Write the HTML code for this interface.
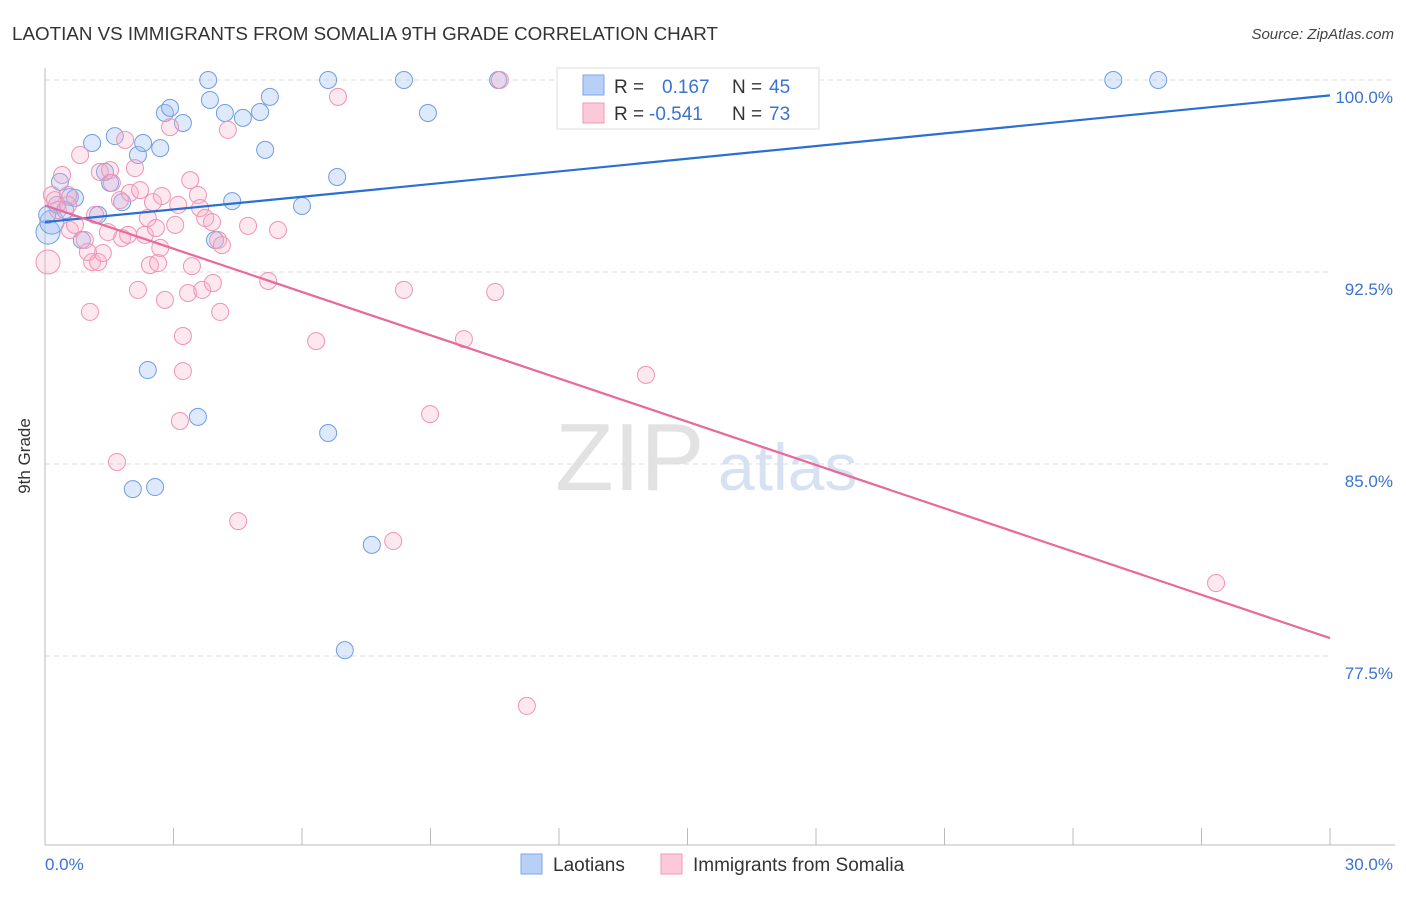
<!DOCTYPE html>
<html><head><meta charset="utf-8">
<style>
body{margin:0;background:#fff;font-family:"Liberation Sans",sans-serif;}
svg text{font-family:"Liberation Sans",sans-serif;}
</style></head>
<body>
<svg id="chart" width="1406" height="892" viewBox="0 0 1406 892">
<text x="12" y="40" font-size="18" fill="#333" textLength="706" lengthAdjust="spacingAndGlyphs">LAOTIAN VS IMMIGRANTS FROM SOMALIA 9TH GRADE CORRELATION CHART</text>
<text x="1394" y="39" font-size="15" fill="#444" text-anchor="end" font-style="italic">Source: ZipAtlas.com</text>
<text x="30" y="456" font-size="17" fill="#333" text-anchor="middle" transform="rotate(-90 30 456)">9th Grade</text>
<text x="555" y="490" font-size="96" fill="#e2e2e2" font-family="Liberation Serif">ZIP</text>
<text x="718" y="490" font-size="66" fill="#d6e2f4">atlas</text>
<g id="grid"></g>
<g id="axes"></g>
<g id="points"></g>
<g id="lines"></g>
<g>
<rect x="557" y="68" width="262" height="61" fill="#fff" stroke="#ddd"/>
<rect x="583" y="75" width="21" height="20" fill="#b8d0f5" stroke="#7fa6e6"/>
<rect x="583" y="103" width="21" height="20" fill="#fbc9d8" stroke="#f09ab8"/>
<text x="614" y="93" font-size="19" fill="#333">R =</text>
<text x="662" y="93" font-size="19" fill="#3a73d0">0.167</text>
<text x="732" y="93" font-size="19" fill="#333">N =</text>
<text x="769" y="93" font-size="19" fill="#3a73d0">45</text>
<text x="614" y="120" font-size="19" fill="#333">R =</text>
<text x="649" y="120" font-size="19" fill="#3a73d0">-0.541</text>
<text x="732" y="120" font-size="19" fill="#333">N =</text>
<text x="769" y="120" font-size="19" fill="#3a73d0">73</text>
</g>
<g>
<rect x="521" y="854" width="21" height="20" fill="#b8d0f5" stroke="#7fa6e6"/>
<text x="553" y="871" font-size="19" fill="#333">Laotians</text>
<rect x="661" y="854" width="21" height="20" fill="#fbc9d8" stroke="#f09ab8"/>
<text x="693" y="871" font-size="19" fill="#333">Immigrants from Somalia</text>
</g>
</svg>
<script>
const xTicks=["0.0%","30.0%"];
const yTickVals=[100,92.5,85,77.5];
const yTickLabels=["100.0%","92.5%","85.0%","77.5%"];
const blueX=[0.07,0.16,0.35,0.58,0.70,1.10,1.24,0.86,1.52,1.63,1.40,1.80,2.17,2.29,2.69,2.80,2.92,3.22,2.40,2.05,2.57,3.57,3.81,3.85,4.20,4.62,4.37,3.97,5.02,5.14,5.25,6.00,6.61,6.61,6.82,7.63,7.00,8.38,8.94,10.58,24.94,25.99,0.05,0.28,0.47];
const blueY=[94.06,94.45,96.02,95.43,95.39,97.54,94.73,93.75,95.98,97.81,96.41,95.23,97.07,97.54,97.34,98.71,98.91,98.32,88.67,84.02,84.10,86.84,100,99.22,98.71,98.52,95.27,93.75,98.75,97.27,99.34,95.08,100,86.21,96.21,81.84,77.73,100,98.71,100,100,100,94.73,95.12,94.92];
const pinkX=[0.07,0.16,0.23,0.30,0.40,0.54,0.58,0.70,0.82,0.93,1.05,1.10,1.17,1.24,1.28,1.35,1.47,1.52,1.56,1.75,1.80,1.87,1.94,1.98,2.10,2.17,2.33,2.40,2.45,2.52,2.59,2.64,2.73,2.80,2.92,3.04,3.11,3.22,3.22,3.15,3.34,3.43,3.57,3.62,3.67,3.74,3.90,3.92,4.04,4.09,4.13,4.27,4.51,4.74,5.21,5.44,1.68,6.33,6.84,8.13,8.38,8.99,9.78,10.51,10.62,11.25,14.03,27.34,1.00,2.22,3.39,2.69,0.54];
const pinkY=[92.89,95.51,95.31,94.92,96.29,95.12,94.14,94.34,97.07,93.75,90.94,92.89,94.73,92.89,96.41,93.24,94.06,96.48,95.98,95.31,93.83,97.66,93.95,95.59,96.56,91.80,93.95,94.61,92.77,95.23,94.22,92.85,95.47,91.41,98.16,94.34,95.12,90.0,88.63,86.68,91.68,92.73,95.51,95.0,91.80,94.61,94.45,92.07,93.75,90.94,93.55,98.05,82.77,94.30,92.15,94.14,85.08,89.80,99.34,81.99,91.80,86.95,89.88,91.72,100,75.55,88.48,80.35,93.28,95.70,96.09,93.44,95.51];
const blueTrend=[94.45,99.4];
const pinkTrend=[95.1,78.2];
const NS="http://www.w3.org/2000/svg";
const X=v=>45+v*1285/30;
const Y=v=>80+(100-v)*192/7.5;
function mk(tag,attrs,parent){const e=document.createElementNS(NS,tag);for(const k in attrs)e.setAttribute(k,attrs[k]);parent.appendChild(e);return e;}
const grid=document.getElementById('grid'),axes=document.getElementById('axes'),pts=document.getElementById('points'),lines=document.getElementById('lines');
yTickVals.forEach((v,i)=>{
 const l=mk('line',{x1:45,x2:i==0?1395:1330,y1:Y(v),y2:Y(v),stroke:'#ddd','stroke-dasharray':'5,4'},grid);
 
 
 const t=mk('text',{x:1393,y:Y(v)+23,'font-size':17,fill:'#3a73d0','text-anchor':'end'},axes);
 t.textContent=yTickLabels[i];
 
 
});
mk('line',{x1:45,x2:45,y1:68,y2:845,stroke:'#bbb'},axes);
mk('line',{x1:45,x2:1395,y1:845,y2:845,stroke:'#bbb'},axes);
for(let i=1;i<=10;i++){const tk=mk('line',{x1:X(i*3),x2:X(i*3),y1:828,y2:845,stroke:'#bbb'},axes);
 
 }
const t0=mk('text',{x:45,y:870,'font-size':17,fill:'#3a73d0'},axes);t0.textContent=xTicks[0];


const t1=mk('text',{x:1393,y:870,'font-size':17,fill:'#3a73d0','text-anchor':'end'},axes);t1.textContent=xTicks[1];


blueX.forEach((x,i)=>{const c=mk('circle',{cx:X(x),cy:Y(blueY[i]),r:i<2?12:8.5,fill:'rgba(160,192,244,0.35)',stroke:'#6f9de6','stroke-width':1},pts);
 
 });
pinkX.forEach((x,i)=>{const c=mk('circle',{cx:X(x),cy:Y(pinkY[i]),r:i==0?12:8.5,fill:'rgba(248,180,202,0.3)',stroke:'#f092b4','stroke-width':1},pts);
 
 });
const bl=mk('line',{x1:X(0),y1:Y(blueTrend[0]),x2:X(30),y2:Y(blueTrend[1]),stroke:'#2a6fd1','stroke-width':2.2},lines);


const pl=mk('line',{x1:X(0),y1:Y(pinkTrend[0]),x2:X(30),y2:Y(pinkTrend[1]),stroke:'#e8699a','stroke-width':2.2},lines);


</script>
</body></html>
